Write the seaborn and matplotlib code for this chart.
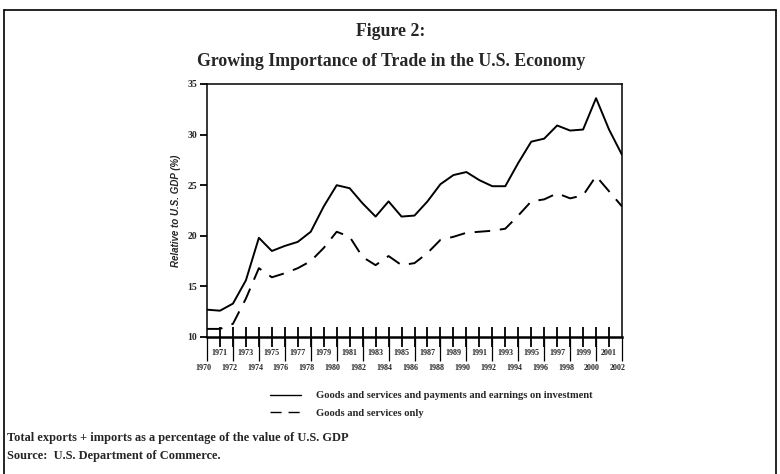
import matplotlib
matplotlib.use("Agg")
import matplotlib.pyplot as plt
import seaborn as sns
import pandas as pd
from matplotlib.lines import Line2D

# ---- data ----
years = [1970, 1971, 1972, 1973, 1974, 1975, 1976, 1977, 1978, 1979, 1980,
         1981, 1982, 1983, 1984, 1985, 1986, 1987, 1988, 1989, 1990, 1991,
         1992, 1993, 1994, 1995, 1996, 1997, 1998, 1999, 2000, 2001, 2002]
goods_services_income = [12.7, 12.6, 13.3, 15.6, 19.8, 18.5, 19.0, 19.4, 20.4, 22.9, 25.0,
                         24.7, 23.2, 21.9, 23.4, 21.9, 22.0, 23.4, 25.1, 26.0, 26.3, 25.5,
                         24.9, 24.9, 27.2, 29.3, 29.6, 30.9, 30.4, 30.5, 33.6, 30.5, 28.0]
goods_services_only = [10.8, 10.8, 11.3, 13.8, 16.8, 15.9, 16.3, 16.8, 17.5, 18.8, 20.4,
                       19.9, 17.9, 17.1, 18.0, 17.1, 17.3, 18.3, 19.6, 19.9, 20.3, 20.4,
                       20.5, 20.7, 22.0, 23.4, 23.6, 24.2, 23.7, 24.0, 25.9, 24.4, 22.9]
series_names = ["Goods and services and payments and earnings on investment",
                "Goods and services only"]
y_ticks = [10, 15, 20, 25, 30, 35]

df = pd.DataFrame({
    "year": years * 2,
    "value": goods_services_income + goods_services_only,
    "series": [series_names[0]] * len(years) + [series_names[1]] * len(years),
})

sns.set_style("white")
plt.rcParams["font.family"] = ["Liberation Serif", "DejaVu Serif"]

fig = plt.figure(figsize=(7.8, 4.74), dpi=100)
W, H = 780, 474
ax = fig.add_axes([207 / W, 1 - 337 / H, (622 - 207) / W, (337 - 84) / H])

sns.lineplot(data=df, x="year", y="value", style="series", color="black",
             dashes={series_names[0]: "", series_names[1]: (8, 5)},
             linewidth=1.4, ax=ax, legend=True)

ax.set_xlim(years[0], years[-1])
ax.set_ylim(y_ticks[0], y_ticks[-1])
for s in ax.spines.values():
    s.set_color("black")
    s.set_linewidth(1.1)
ax.spines["bottom"].set_linewidth(1.8)

ax.set_yticks(y_ticks)
ax.set_yticklabels([str(t) for t in y_ticks], fontsize=7, fontweight="bold")
ax.tick_params(axis="y", direction="out", length=5, width=1.3, color="black", pad=2, left=True)

ax.set_xticks(years[1:-1])
ax.set_xticklabels([])
ax.tick_params(axis="x", direction="inout", length=14, width=1.3, color="black", bottom=True)

ax.set_xlabel("")
ax.set_ylabel("Relative to U.S. GDP (%)", fontsize=7, fontweight="bold",
              fontstyle="italic", family=["Liberation Sans", "DejaVu Sans"], labelpad=5)

xt = ax.get_xaxis_transform()
for yr in years:
    if yr % 2 == 1:
        ax.text(yr, -0.065, str(yr), transform=xt, ha="center", va="center",
                fontsize=5.8, fontweight="bold")
    else:
        ax.text(yr - 0.3, -0.123, str(yr), transform=xt, ha="center", va="center",
                fontsize=5.8, fontweight="bold")
ax.vlines([y for y in years if y % 2 == 0], -0.095, 0, transform=xt,
          colors="black", linewidth=0.9, clip_on=False)

# legend
ax.legend(handles=[Line2D([], [], color="black", lw=1.0),
                   Line2D([], [], color="black", lw=1.0, dashes=(8, 5))],
          labels=series_names, loc="upper left",
          bbox_to_anchor=(270 / W, 1 - 391 / H), bbox_transform=fig.transFigure,
          frameon=False, borderaxespad=0, borderpad=0, handlelength=2.9,
          handletextpad=1.5, labelspacing=0.75,
          prop={"size": 7.6, "weight": "bold", "family": "Liberation Serif"})

# titles
fig.text(391 / W, 1 - 32 / H, "Figure 2:", ha="center", va="center",
         fontsize=12.8, fontweight="bold")
fig.text(391 / W, 1 - 62 / H, "Growing Importance of Trade in the U.S. Economy",
         ha="center", va="center", fontsize=12.8, fontweight="bold")

fig.text(7 / W, 1 - 438 / H, "Total exports + imports as a percentage of the value of U.S. GDP",
         ha="left", va="center", fontsize=8.9, fontweight="bold")
fig.text(7 / W, 1 - 456 / H, "Source:  U.S. Department of Commerce.",
         ha="left", va="center", fontsize=8.9, fontweight="bold")

# outer frame (left, top, right)
fr = dict(color="black", linewidth=1.2, transform=fig.transFigure)
fig.add_artist(Line2D([4 / W, 4 / W], [0, 1 - 10 / H], **fr))
fig.add_artist(Line2D([4 / W, 776 / W], [1 - 10 / H, 1 - 10 / H], **fr))
fig.add_artist(Line2D([776 / W, 776 / W], [0, 1 - 10 / H], **fr))

fig.savefig("out.png", dpi=100)
